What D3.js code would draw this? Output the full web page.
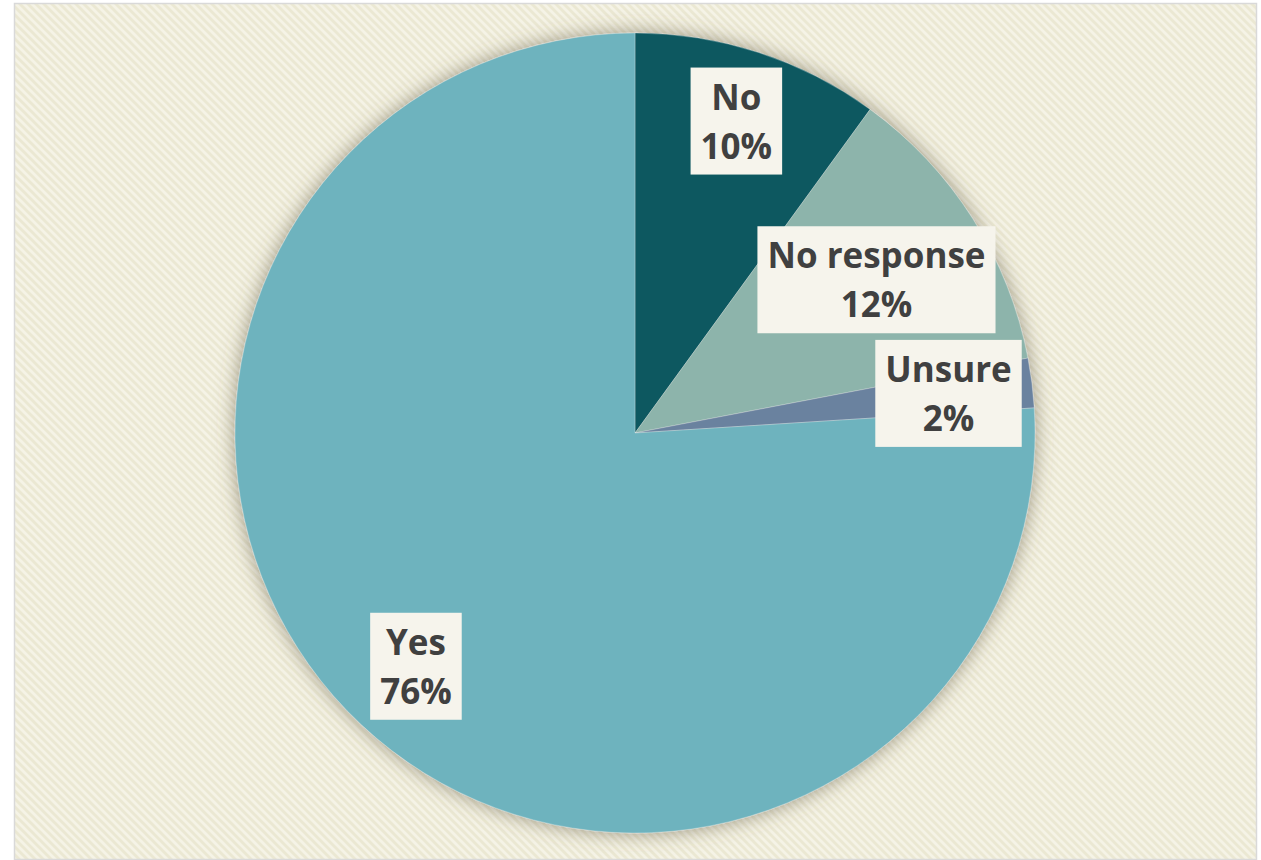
<!DOCTYPE html>
<html>
<head>
<meta charset="utf-8">
<script src="https://cdn.jsdelivr.net/npm/d3@7"></script>
<style>
  html, body { margin: 0; padding: 0; background: #ffffff; }
  svg { display: block; }
</style>
</head>
<body>
<svg id="chart" width="1261" height="860"></svg>
<script>
// Survey answers, clockwise from 12 o'clock
const categories = ["No", "No response", "Unsure", "Yes"];
const values = [10, 12, 2, 76];
const percentLabels = ["10%", "12%", "2%", "76%"];
const colors = ["#0E5961", "#8DB4AB", "#6A829F", "#6EB3BE"];

// Distance of each label box from the pie centre, as a share of the radius
const labelRadiusFactor = [0.82, 0.715, 0.79, 0.8];

const W = 1261, H = 860;
const cx = 635, cy = 433, R = 400;

const svg = d3.select("#chart");
const defs = svg.append("defs");

// Fine diagonal weave for the chart area
const pat = defs.append("pattern")
  .attr("id", "weave")
  .attr("patternUnits", "userSpaceOnUse")
  .attr("width", 8).attr("height", 8);
pat.append("rect").attr("width", 8).attr("height", 8).attr("fill", "#F5F3E6");
pat.append("path")
  .attr("d", "M0,0 L2,0 L8,6 L8,8 L6,8 L0,2 Z M6,0 L8,0 L8,2 Z M0,6 L2,8 L0,8 Z")
  .attr("fill", "#EBE8D3");

// Soft shadow around the pie
const f = defs.append("filter").attr("id", "pieShadow")
  .attr("x", "-20%").attr("y", "-20%").attr("width", "140%").attr("height", "140%");
f.append("feDropShadow")
  .attr("dx", 0).attr("dy", 0)
  .attr("stdDeviation", 10)
  .attr("flood-color", "#5e5640")
  .attr("flood-opacity", 0.6);

// Chart frame
svg.append("rect")
  .attr("x", 14.5).attr("y", 3.5)
  .attr("width", 1242).attr("height", 856)
  .attr("fill", "url(#weave)")
  .attr("stroke", "#D9D9D9")
  .attr("stroke-width", 1.5);

const data = categories.map((c, i) => ({ category: c, value: values[i], label: percentLabels[i], i }));

const pie = d3.pie().sort(null).value(d => d.value);
const arcs = pie(data);
const arc = d3.arc().innerRadius(0).outerRadius(R);

const g = svg.append("g").attr("transform", `translate(${cx},${cy})`);

const slices = g.append("g").attr("filter", "url(#pieShadow)");
slices.selectAll("path")
  .data(arcs)
  .join("path")
  .attr("d", arc)
  .attr("fill", d => colors[d.data.i])
  .attr("stroke", "rgba(255,255,255,0.35)")
  .attr("stroke-width", 0.75);

// Data labels: category name over percentage, on a light box
const fontSize = 35;
const lineGap = 49;
const labels = g.append("g").attr("class", "labels");

arcs.forEach(d => {
  const r = R * labelRadiusFactor[d.data.i];
  const [x, y] = d3.arc().innerRadius(r).outerRadius(r).centroid(d);
  const lg = labels.append("g").attr("transform", `translate(${x},${y})`);
  const box = lg.append("rect").attr("fill", "#F6F4EC");
  const t = lg.append("text")
    .attr("text-anchor", "middle")
    .attr("font-family", "'Open Sans', 'Noto Sans', sans-serif")
    .attr("font-weight", 700)
    .attr("font-size", fontSize)
    .attr("fill", "#404040");
  t.append("tspan").attr("x", 0).attr("y", -lineGap / 2 + 13).text(d.data.category);
  t.append("tspan").attr("x", 0).attr("y", lineGap / 2 + 13).text(d.data.label);
  const bb = t.node().getBBox();
  const padX = 10;
  const boxH = 107;
  box.attr("x", bb.x - padX).attr("y", -boxH / 2)
     .attr("width", bb.width + padX * 2).attr("height", boxH);
});
</script>
</body>
</html>
